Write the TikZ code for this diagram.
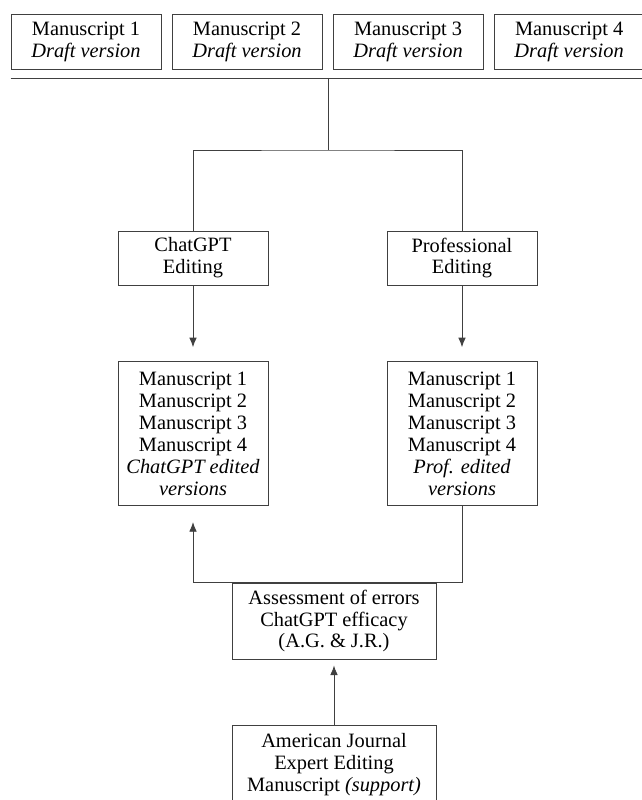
\documentclass[tikz,border=0pt]{standalone}
\usepackage{fontspec}
\setmainfont{Liberation Serif}
\usetikzlibrary{positioning,arrows.meta}

\begin{document}
\begin{tikzpicture}[x=0.025cm,y=-0.025cm,node distance=4.025cm,on grid,
		every node/.style={font=\fontsize{14.5}{15.6}\selectfont},
		box/.style={draw=black!75,line width=0.6pt,align=center,inner sep=0pt,minimum width=3.75cm},
		link/.style={draw=black!75,line width=0.6pt},
		arr/.style={link,-{Latex[length=0.24cm,width=0.19cm]}}]
		\useasboundingbox (0,0) rectangle (641,800);
		% draft versions
		\node[box,minimum height=1.375cm] (m1) at (86,41.5) {Manuscript 1\\\textit{Draft version}};
		\node[box,minimum height=1.375cm] (m2) [right=of m1] {Manuscript 2\\\textit{Draft version}};
		\node[box,minimum height=1.375cm] (m3) [right=of m2] {Manuscript 3\\\textit{Draft version}};
		\node[box,minimum height=1.375cm] (m4) [right=of m3] {Manuscript 4\\\textit{Draft version}};
		\coordinate (bus) at (328,78);
		\coordinate (fork) at (328,150);
		% editing
		\node[box,minimum height=1.35cm] (chat) at (193,258) {ChatGPT\\Editing};
		\node[box,minimum height=1.35cm] (prof) at (462,258) {Professional\\Editing};
		\node[box,minimum height=3.6cm] (cedit) [below=4.39cm of chat] {Manuscript 1\\Manuscript 2\\Manuscript 3\\Manuscript 4\\\textit{ChatGPT edited}\\\textit{versions}};
		\node[box,minimum height=3.6cm] (pedit) [below=4.39cm of prof] {Manuscript 1\\Manuscript 2\\Manuscript 3\\Manuscript 4\\\textit{Prof. edited}\\\textit{versions}};
		% assessment
		\node[box,minimum width=5.1cm,minimum height=1.9cm] (assess) at (334,621) {Assessment of errors\\ChatGPT efficacy\\(A.G. \& J.R.)};
		\node[box,minimum width=5.1cm,anchor=north,inner ysep=0.2cm] (ajeem) at (334,725) {American Journal\\Expert Editing\\Manuscript \textit{(support)}};
		\draw[link] (m1.south west |- bus) -- (m4.south east |- bus);
		\draw[link] (bus) -- (fork);
		\draw[link] (chat.north) |- (fork) -| (prof.north);
		\draw[arr,shorten >=0.35cm] (chat) -- (cedit);
		\draw[arr,shorten >=0.35cm] (prof) -- (pedit);
		\draw[arr,shorten >=0.4cm] (pedit.south) |- (assess.north) -| (cedit.south);
		\draw[arr,shorten >=0.15cm] (ajeem) -- (assess);
\end{tikzpicture}
\end{document}
